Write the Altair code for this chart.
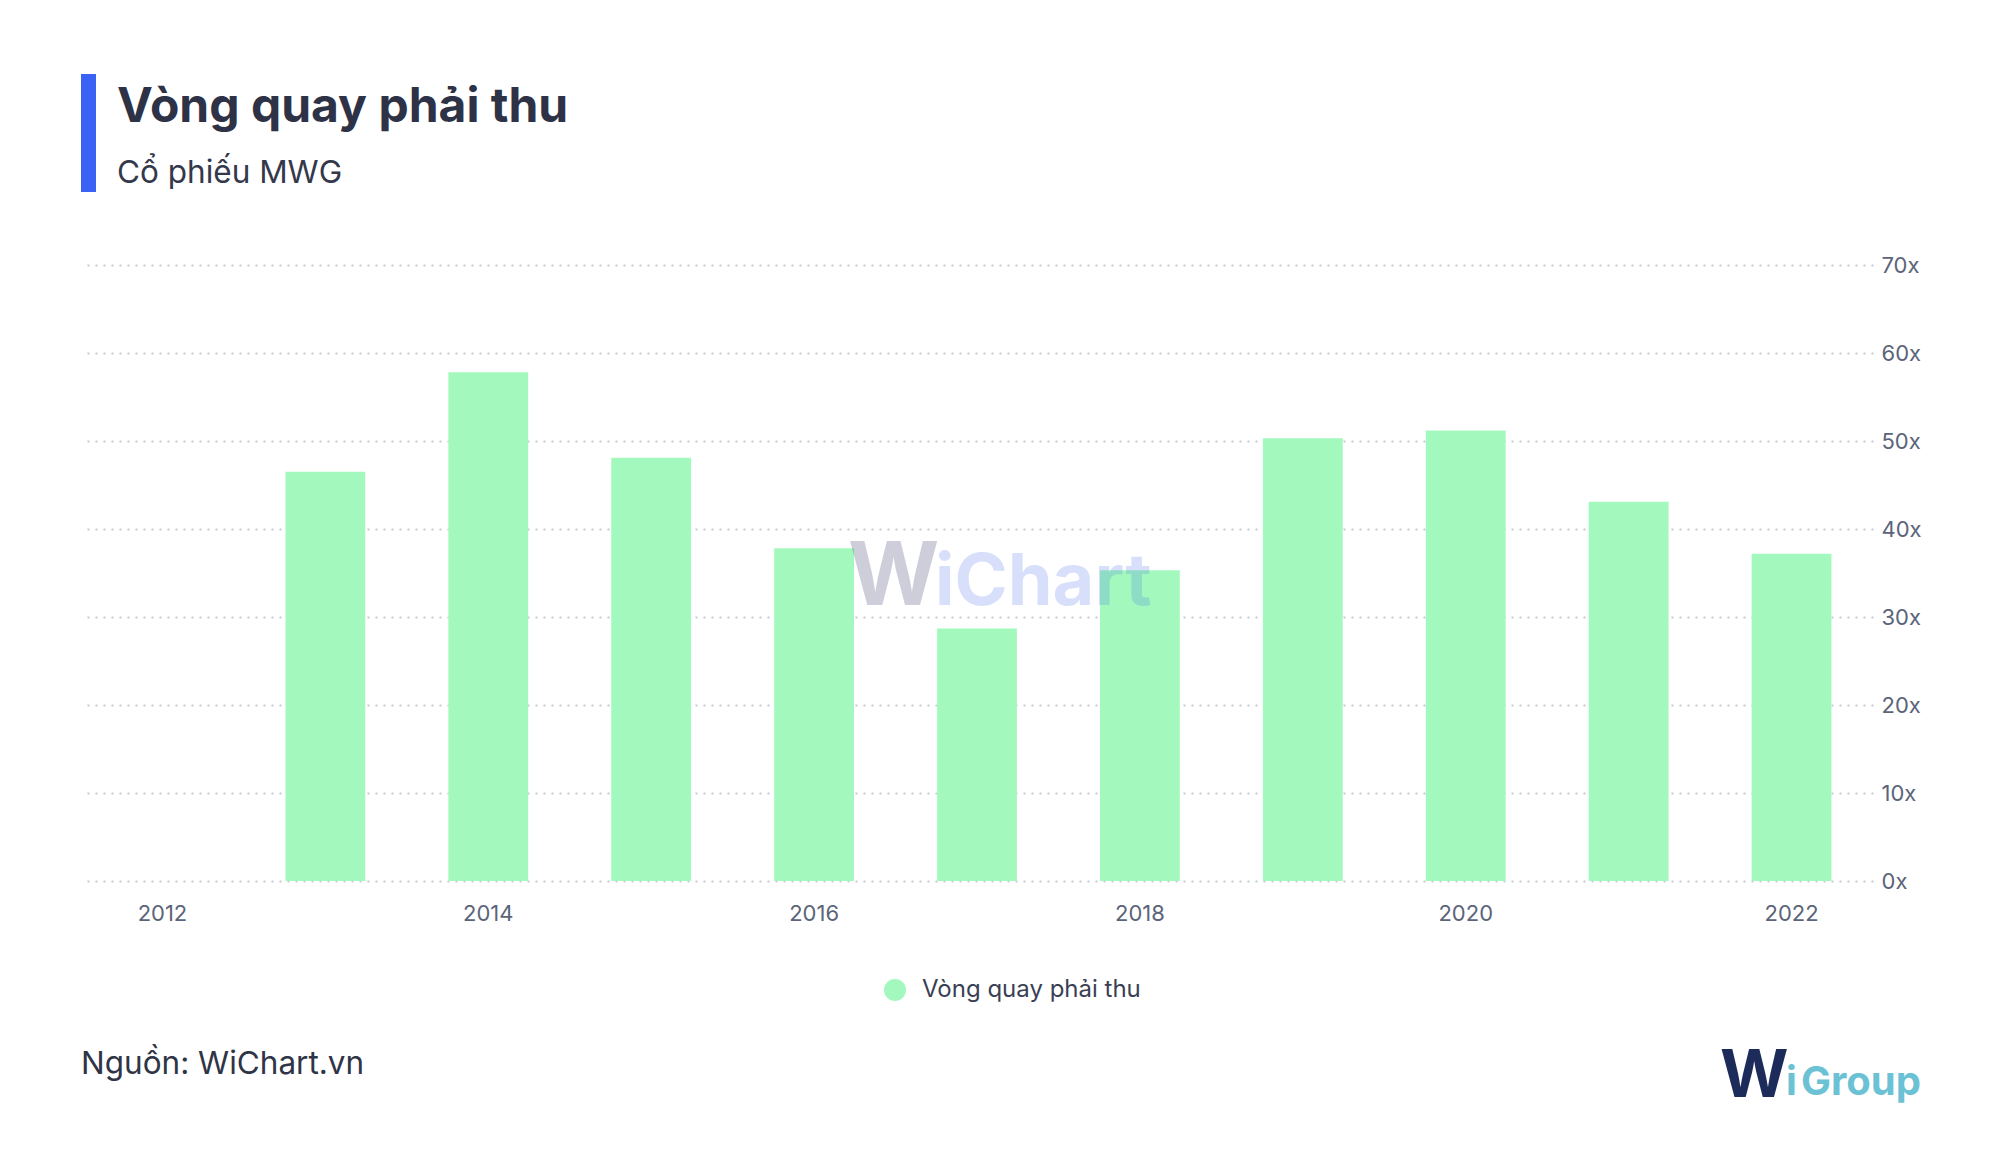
import altair as alt
import pandas as pd

# ---- data ----
years = ["2012", "2013", "2014", "2015", "2016", "2017", "2018", "2019", "2020", "2021", "2022"]
values = [None, 46.5, 57.8, 48.1, 37.8, 28.7, 35.3, 50.3, 51.2, 43.1, 37.2]
x_tick_labels = ["2012", "2014", "2016", "2018", "2020", "2022"]
y_ticks = [0, 10, 20, 30, 40, 50, 60, 70]
series_name = "Vòng quay phải thu"

title_text = "Vòng quay phải thu"
subtitle_text = "Cổ phiếu MWG"
source_text = "Nguồn: WiChart.vn"

FONT = "Inter"
BAR_COLOR = "#a3f9bd"
TEXT_DARK = "#2e3246"
AXIS_COLOR = "#5b6479"

df = pd.DataFrame({"Năm": years, "Giá trị": values, "series": [series_name] * len(years)})

# plot origin on page = (81, 265)
OX, OY = 81, 265

bars = alt.Chart(df).mark_bar().encode(
    x=alt.X(
        "Năm:N",
        scale=alt.Scale(domain=years, paddingInner=0.51, paddingOuter=0.255),
        axis=alt.Axis(
            values=x_tick_labels, title=None, labelAngle=0, domain=False, ticks=False,
            grid=False, labelFont=FONT, labelFontSize=22, labelColor=AXIS_COLOR,
            labelPadding=22,
        ),
    ),
    y=alt.Y(
        "Giá trị:Q",
        scale=alt.Scale(domain=[0, 70], nice=False),
        axis=alt.Axis(
            orient="right", values=y_ticks, labelExpr="datum.value + 'x'", title=None,
            domain=False, ticks=False, grid=True, gridDash=[2, 6], gridColor="#c5c9d5",
            gridWidth=2, labelFont=FONT, labelFontSize=22, labelColor=AXIS_COLOR,
            labelPadding=8,
        ),
    ),
    color=alt.Color(
        "series:N",
        scale=alt.Scale(domain=[series_name], range=[BAR_COLOR]),
        legend=alt.Legend(
            title=None, orient="none", legendX=883 - OX, legendY=978 - OY, padding=0,
            symbolType="circle", symbolSize=484, symbolStrokeWidth=0, symbolOpacity=1,
            labelFont=FONT, labelFontSize=24, labelColor="#3a3f55", labelOffset=15,
            labelLimit=600,
        ),
    ),
)

one = pd.DataFrame({"k": [0]})


def text_layer(txt, x, y, size, color, weight="normal", opacity=1.0, baseline="alphabetic", align="left"):
    return alt.Chart(pd.DataFrame({"t": [txt]})).mark_text(
        font=FONT, fontSize=size, fontWeight=weight, color=color, opacity=opacity,
        baseline=baseline, align=align,
    ).encode(text="t:N", x=alt.value(x - OX), y=alt.value(y - OY))


accent = alt.Chart(one).mark_rect(color="#3a63f5").encode(
    x=alt.value(81 - OX), x2=alt.value(96 - OX), y=alt.value(74 - OY), y2=alt.value(192 - OY)
)

title = text_layer(title_text, 117, 122, 48, TEXT_DARK, weight="bold")
subtitle = text_layer(subtitle_text, 117, 183, 31.5, "#34384b")
source = text_layer(source_text, 81, 1074, 31.5, "#2f3447")

# watermark
wm_w = text_layer("W", 848, 605, 88, "#101050", weight="bold", opacity=0.2)
wm_chart = text_layer("iChart", 935, 605, 72, "#4066ec", weight="bold", opacity=0.2)

# logo
logo_w = text_layer("W", 1720, 1097, 66, "#1c2b59", weight="bold")
logo_i = text_layer("i", 1786, 1095, 40, "#6cc2d5", weight="bold")
logo_group = text_layer("Group", 1801, 1095, 40, "#6cc2d5", weight="bold")

chart = alt.layer(
    bars, accent, title, subtitle, source, wm_w, wm_chart, logo_w, logo_i, logo_group
).properties(
    width=1792,
    height=616,
    padding={"left": OX - 8, "top": OY - 8, "right": 1984 - (OX - 8) - 1792, "bottom": 1143 - (OY - 8) - 616},
    autosize=alt.AutoSizeParams(type="none"),
    background="white",
).configure_view(stroke=None)

chart.save("out.html", embed_options={"renderer": "svg", "actions": False})
